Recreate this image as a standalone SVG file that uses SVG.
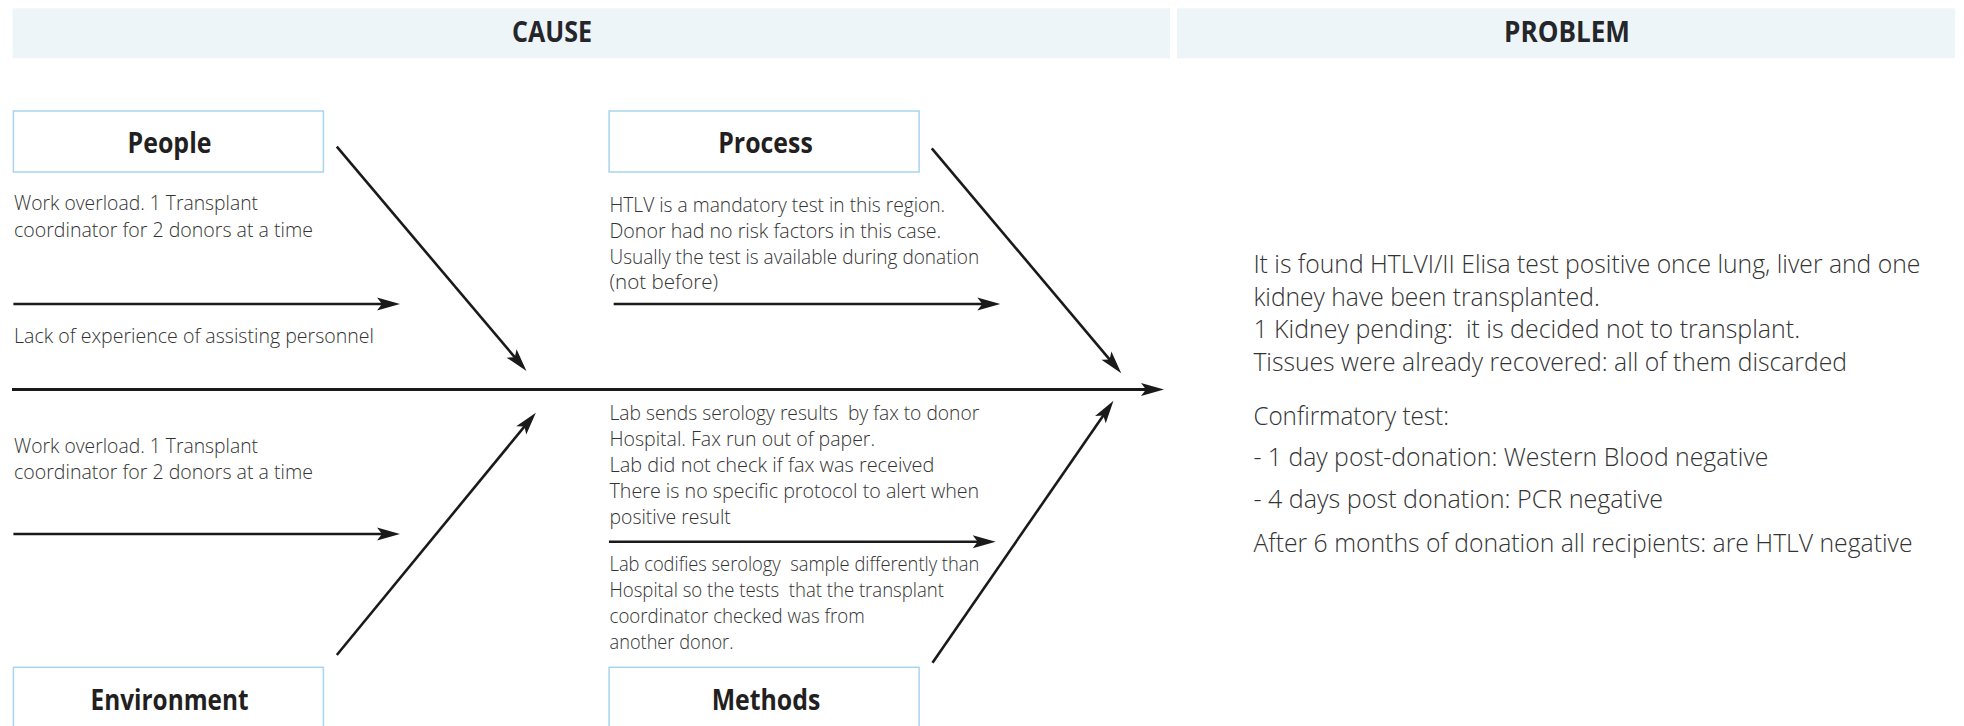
<svg xmlns="http://www.w3.org/2000/svg" width="1964" height="726" viewBox="0 0 1964 726">
<style>
.bar{fill:#eef5f9}
.hdr{font-family:"Open Sans","Liberation Sans",sans-serif;font-weight:700;font-size:28px;fill:#25262a;text-anchor:middle}
.box{fill:#ffffff;stroke:#a9d4ee;stroke-width:1.5}
.ttl{font-family:"Open Sans","Liberation Sans",sans-serif;font-weight:700;font-size:28.5px;fill:#231f20;text-anchor:middle}
.t{font-family:"Open Sans","Liberation Sans",sans-serif;font-weight:300;font-size:21px;fill:#333333;white-space:pre}
.r{font-family:"Open Sans","Liberation Sans",sans-serif;font-weight:300;font-size:26.5px;fill:#333333;white-space:pre}
.ln{stroke:#1a1a1a;stroke-width:2.6;fill:none}
.spine{stroke:#1a1a1a;stroke-width:3;fill:none}
</style>
<defs>
<marker id="ah" markerUnits="userSpaceOnUse" viewBox="-14 -8 28 16" markerWidth="28" markerHeight="16" refX="0" refY="0" orient="auto" overflow="visible">
<path d="M10,0 L-13,-6.5 L-8,0 L-13,6.5 Z" fill="#1a1a1a"/>
</marker>
</defs>

<g id="header-cause">
<rect class="bar" x="12.5" y="8.3" width="1157.5" height="50"/>
<text class="hdr" x="552" y="41.7" textLength="80" lengthAdjust="spacingAndGlyphs">CAUSE</text>
</g>
<g id="header-problem">
<rect class="bar" x="1177" y="8.3" width="778" height="50"/>
<text class="hdr" x="1567" y="41.7" textLength="126" lengthAdjust="spacingAndGlyphs">PROBLEM</text>
</g>

<g id="connectors">
<line class="spine" x1="12" y1="389.5" x2="1154" y2="389.5" marker-end="url(#ah)"/>
<line class="ln" x1="13.4" y1="304" x2="390" y2="304" marker-end="url(#ah)"/>
<line class="ln" x1="613.7" y1="304" x2="990.3" y2="304" marker-end="url(#ah)"/>
<line class="ln" x1="13.4" y1="534" x2="390" y2="534" marker-end="url(#ah)"/>
<line class="ln" x1="609" y1="541.7" x2="985.7" y2="541.7" marker-end="url(#ah)"/>
<line class="ln" x1="336.8" y1="146.7" x2="520.0" y2="363.4" marker-end="url(#ah)"/>
<line class="ln" x1="931.8" y1="148.3" x2="1114.8" y2="365.6" marker-end="url(#ah)"/>
<line class="ln" x1="336.8" y1="655" x2="529.5" y2="420.4" marker-end="url(#ah)"/>
<line class="ln" x1="932.5" y1="662.7" x2="1107.8" y2="408.9" marker-end="url(#ah)"/>
</g>

<g id="people">
<rect class="box" x="13.4" y="111" width="310" height="61"/>
<text class="ttl" x="169.5" y="152.5" textLength="84" lengthAdjust="spacingAndGlyphs">People</text>
<text class="t" x="14" y="210" textLength="244" lengthAdjust="spacingAndGlyphs">Work overload. 1 Transplant</text>
<text class="t" x="14" y="236.7" textLength="299" lengthAdjust="spacingAndGlyphs">coordinator for 2 donors at a time</text>
<text class="t" x="14" y="342.7" textLength="360" lengthAdjust="spacingAndGlyphs">Lack of experience of assisting personnel</text>
</g>

<g id="process">
<rect class="box" x="609.1" y="111" width="310" height="61"/>
<text class="ttl" x="765.5" y="152.5" textLength="94.5" lengthAdjust="spacingAndGlyphs">Process</text>
<text class="t" x="609.5" y="211.7" textLength="335.7" lengthAdjust="spacingAndGlyphs">HTLV is a mandatory test in this region.</text>
<text class="t" x="609.5" y="238.3" textLength="331.8" lengthAdjust="spacingAndGlyphs">Donor had no risk factors in this case.</text>
<text class="t" x="609.5" y="264.3" textLength="369.7" lengthAdjust="spacingAndGlyphs">Usually the test is available during donation</text>
<text class="t" x="609.5" y="288.5" textLength="108.7" lengthAdjust="spacingAndGlyphs">(not before)</text>
</g>

<g id="environment">
<rect class="box" x="13.4" y="667.3" width="310" height="70"/>
<text class="ttl" x="169.6" y="710" textLength="158" lengthAdjust="spacingAndGlyphs">Environment</text>
<text class="t" x="14" y="453.3" textLength="244" lengthAdjust="spacingAndGlyphs">Work overload. 1 Transplant</text>
<text class="t" x="14" y="479.3" textLength="299" lengthAdjust="spacingAndGlyphs">coordinator for 2 donors at a time</text>
</g>

<g id="methods">
<rect class="box" x="609.1" y="667.3" width="310" height="70"/>
<text class="ttl" x="766" y="710" textLength="108.7" lengthAdjust="spacingAndGlyphs">Methods</text>
<text class="t" x="609.5" y="420" textLength="369.7" lengthAdjust="spacingAndGlyphs">Lab sends serology results  by fax to donor</text>
<text class="t" x="609.5" y="446" textLength="265.6" lengthAdjust="spacingAndGlyphs">Hospital. Fax run out of paper.</text>
<text class="t" x="609.5" y="472.3" textLength="324.9" lengthAdjust="spacingAndGlyphs">Lab did not check if fax was received</text>
<text class="t" x="609.5" y="498.3" textLength="369.7" lengthAdjust="spacingAndGlyphs">There is no specific protocol to alert when</text>
<text class="t" x="609.5" y="524.3" textLength="121.3" lengthAdjust="spacingAndGlyphs">positive result</text>
<text class="t" x="609.5" y="570.7" textLength="369.7" lengthAdjust="spacingAndGlyphs">Lab codifies serology  sample differently than</text>
<text class="t" x="609.5" y="597.3" textLength="334.5" lengthAdjust="spacingAndGlyphs">Hospital so the tests  that the transplant</text>
<text class="t" x="609.5" y="623.3" textLength="255.3" lengthAdjust="spacingAndGlyphs">coordinator checked was from</text>
<text class="t" x="609.5" y="649.3" textLength="124" lengthAdjust="spacingAndGlyphs">another donor.</text>
</g>

<g id="problem">
<text class="r" x="1253.4" y="273" textLength="667" lengthAdjust="spacingAndGlyphs">It is found HTLVI/II Elisa test positive once lung, liver and one</text>
<text class="r" x="1253.4" y="305.5" textLength="346.4" lengthAdjust="spacingAndGlyphs">kidney have been transplanted.</text>
<text class="r" x="1253.4" y="338" textLength="546.7" lengthAdjust="spacingAndGlyphs">1 Kidney pending:  it is decided not to transplant.</text>
<text class="r" x="1253.4" y="370.5" textLength="593.6" lengthAdjust="spacingAndGlyphs">Tissues were already recovered: all of them discarded</text>
<text class="r" x="1253.4" y="425" textLength="195.6" lengthAdjust="spacingAndGlyphs">Confirmatory test:</text>
<text class="r" x="1253.4" y="466" textLength="514.9" lengthAdjust="spacingAndGlyphs">- 1 day post-donation: Western Blood negative</text>
<text class="r" x="1253.4" y="508.3" textLength="409.6" lengthAdjust="spacingAndGlyphs">- 4 days post donation: PCR negative</text>
<text class="r" x="1253.4" y="551.5" textLength="659.1" lengthAdjust="spacingAndGlyphs">After 6 months of donation all recipients: are HTLV negative</text>
</g>
</svg>
